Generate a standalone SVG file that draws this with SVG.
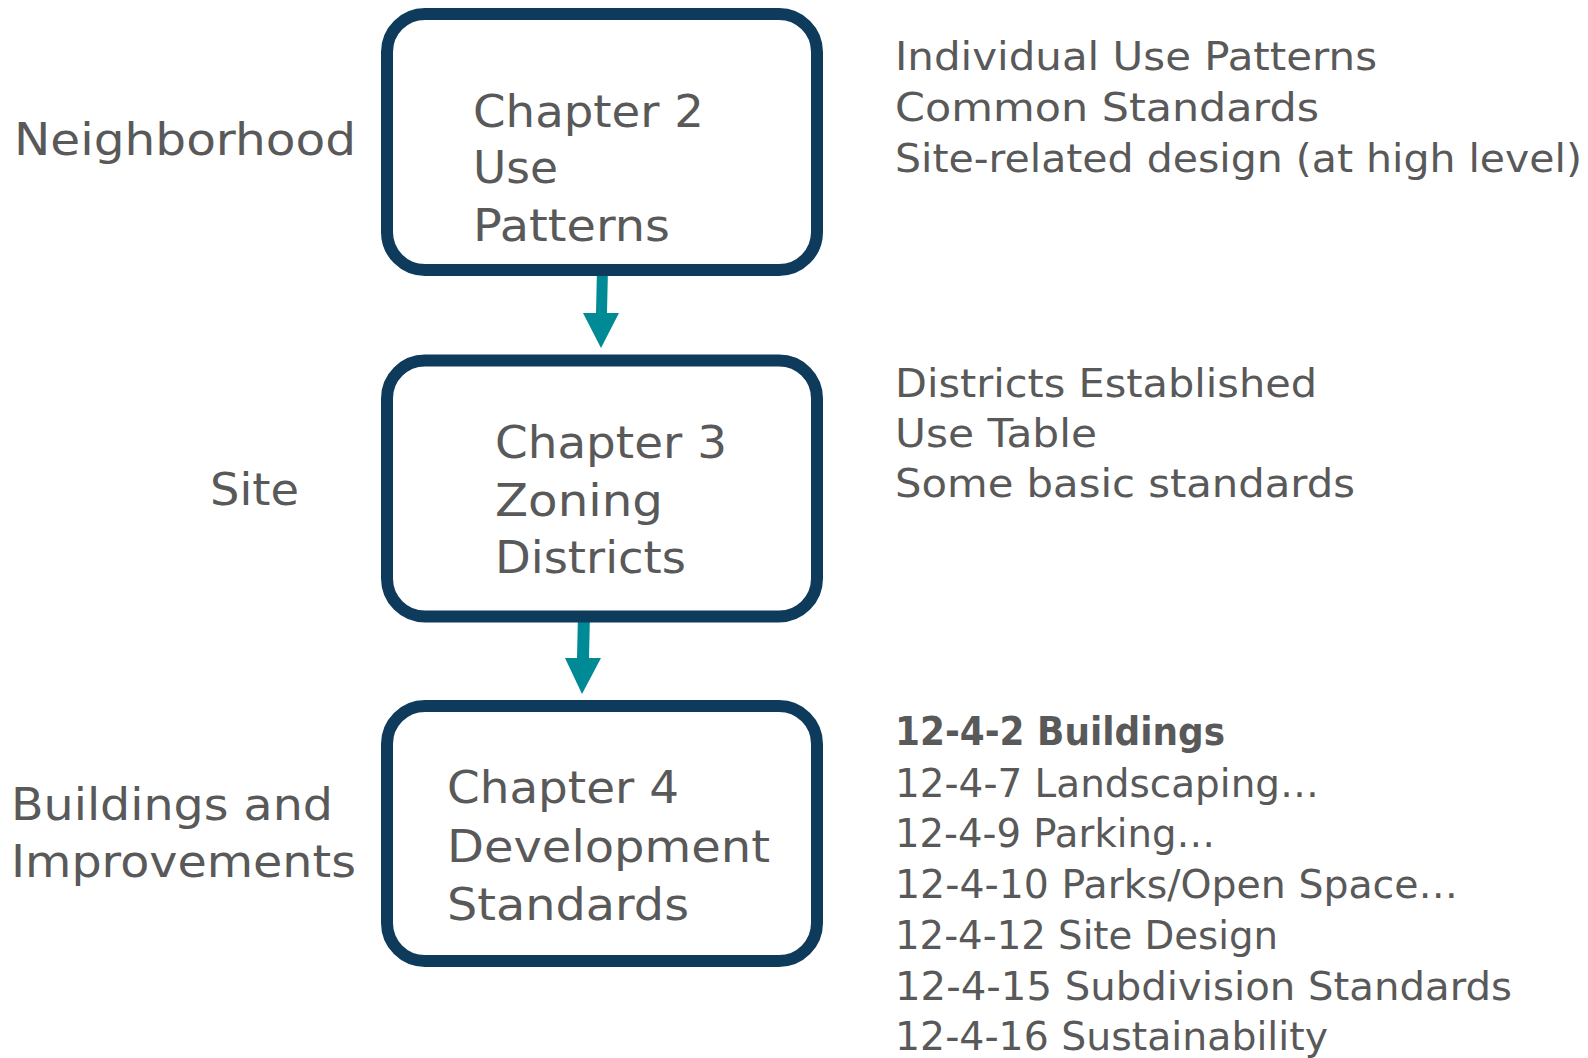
<svg xmlns="http://www.w3.org/2000/svg" width="1588" height="1058" viewBox="0 0 1588 1058">
<style>
.box{fill:#ffffff;stroke:#0e3a5b;stroke-width:12}
.t{font-family:"DejaVu Sans","Open Sans",sans-serif;fill:#595959}
.big{font-size:45px}
.sm{font-size:39px}
.b{font-weight:bold}
.arr{fill:#008a95}
</style>
<rect width="1588" height="1058" fill="#ffffff"/>
<g id="connectors">
<polygon class="arr" points="597,268 608,268 607,313 619,313 601,348 583,313 596,313"/>
<polygon class="arr" points="578,614 590,614 589,658 601,658 582,694 565,658 577,658"/>
</g>
<g id="node-ch2">
<rect class="box" x="387" y="14" width="430" height="256" rx="38"/>
<text class="t big" x="473" y="127" textLength="231" lengthAdjust="spacingAndGlyphs">Chapter 2</text>
<text class="t big" x="473" y="183" textLength="85" lengthAdjust="spacingAndGlyphs">Use</text>
<text class="t big" x="473" y="241" textLength="197" lengthAdjust="spacingAndGlyphs">Patterns</text>
</g>
<g id="node-ch3">
<rect class="box" x="387" y="360.5" width="430" height="256" rx="38"/>
<text class="t big" x="495" y="458" textLength="232" lengthAdjust="spacingAndGlyphs">Chapter 3</text>
<text class="t big" x="495" y="516" textLength="168" lengthAdjust="spacingAndGlyphs">Zoning</text>
<text class="t big" x="495" y="573" textLength="191" lengthAdjust="spacingAndGlyphs">Districts</text>
</g>
<g id="node-ch4">
<rect class="box" x="387" y="706" width="430" height="255" rx="38"/>
<text class="t big" x="447" y="803" textLength="232" lengthAdjust="spacingAndGlyphs">Chapter 4</text>
<text class="t big" x="447" y="862" textLength="323" lengthAdjust="spacingAndGlyphs">Development</text>
<text class="t big" x="447" y="920" textLength="242" lengthAdjust="spacingAndGlyphs">Standards</text>
</g>
<g id="labels-left">
<text class="t big" x="14" y="155" textLength="342" lengthAdjust="spacingAndGlyphs">Neighborhood</text>
<text class="t big" x="210" y="505" textLength="89" lengthAdjust="spacingAndGlyphs">Site</text>
<text class="t big" x="11" y="820" textLength="322" lengthAdjust="spacingAndGlyphs">Buildings and</text>
<text class="t big" x="11" y="877" textLength="345" lengthAdjust="spacingAndGlyphs">Improvements</text>
</g>
<g id="notes-ch2">
<text class="t sm" x="895" y="70" textLength="482" lengthAdjust="spacingAndGlyphs">Individual Use Patterns</text>
<text class="t sm" x="895" y="121" textLength="424" lengthAdjust="spacingAndGlyphs">Common Standards</text>
<text class="t sm" x="895" y="172" textLength="687" lengthAdjust="spacingAndGlyphs">Site-related design (at high level)</text>
</g>
<g id="notes-ch3">
<text class="t sm" x="895" y="397" textLength="422" lengthAdjust="spacingAndGlyphs">Districts Established</text>
<text class="t sm" x="895" y="447" textLength="202" lengthAdjust="spacingAndGlyphs">Use Table</text>
<text class="t sm" x="895" y="497" textLength="460" lengthAdjust="spacingAndGlyphs">Some basic standards</text>
</g>
<g id="notes-ch4">
<text class="t sm b" x="895" y="745" textLength="330" lengthAdjust="spacingAndGlyphs">12-4-2 Buildings</text>
<text class="t sm" x="895" y="797" textLength="424" lengthAdjust="spacingAndGlyphs">12-4-7 Landscaping…</text>
<text class="t sm" x="895" y="847" textLength="320" lengthAdjust="spacingAndGlyphs">12-4-9 Parking…</text>
<text class="t sm" x="895" y="898" textLength="563" lengthAdjust="spacingAndGlyphs">12-4-10 Parks/Open Space…</text>
<text class="t sm" x="895" y="949" textLength="383" lengthAdjust="spacingAndGlyphs">12-4-12 Site Design</text>
<text class="t sm" x="895" y="1000" textLength="617" lengthAdjust="spacingAndGlyphs">12-4-15 Subdivision Standards</text>
<text class="t sm" x="895" y="1050" textLength="433" lengthAdjust="spacingAndGlyphs">12-4-16 Sustainability</text>
</g>
</svg>
